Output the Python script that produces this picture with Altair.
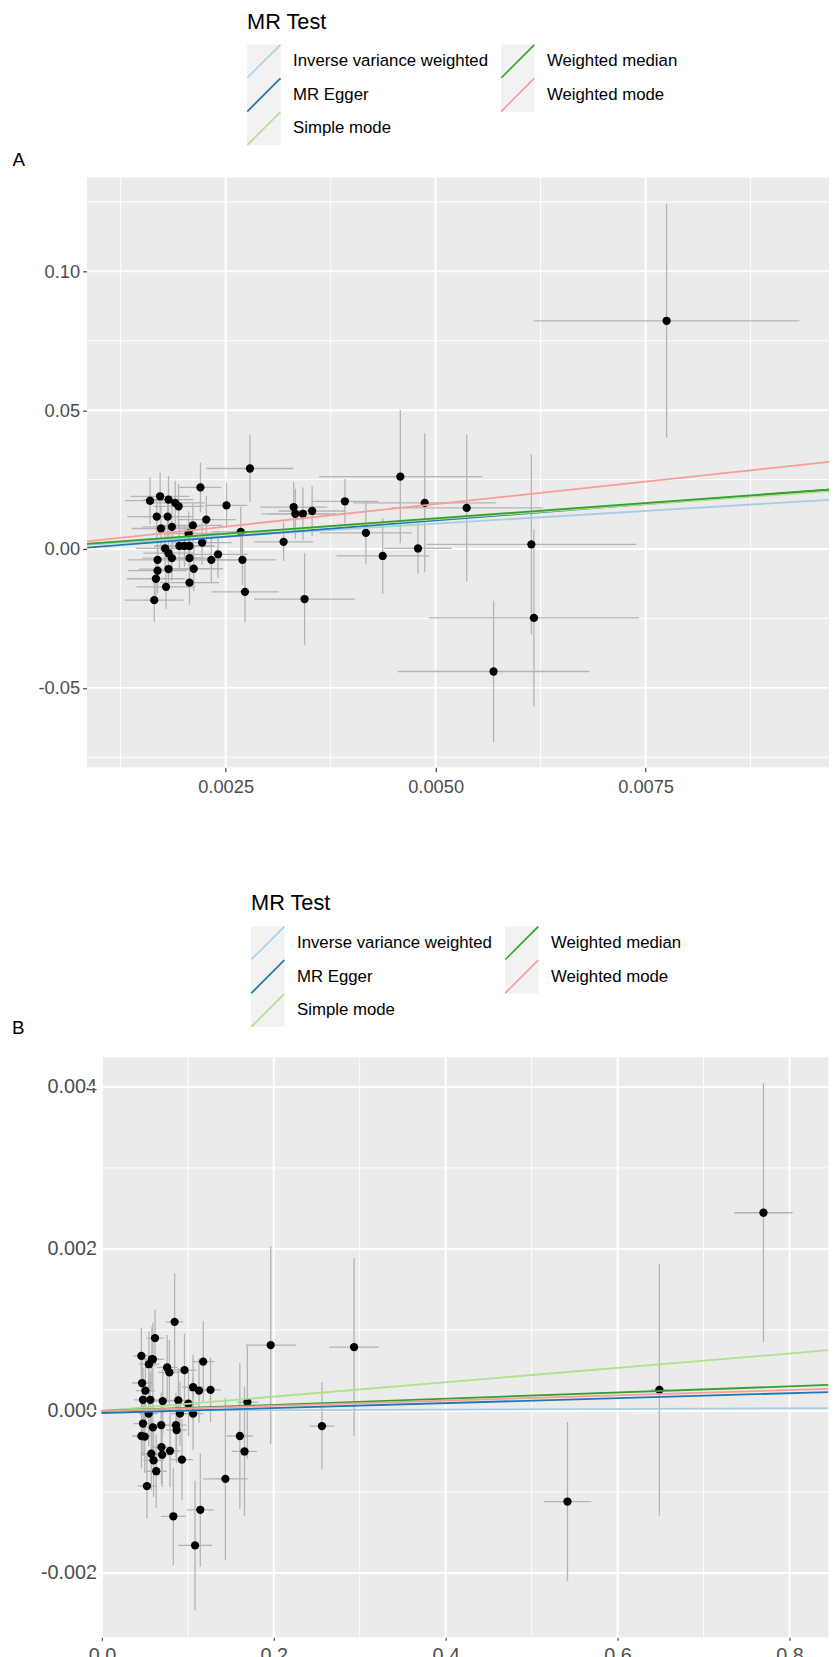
import altair as alt
import pandas as pd

METHODS = ["Inverse variance weighted", "MR Egger", "Simple mode", "Weighted median", "Weighted mode"]
COLORS = {
    "Inverse variance weighted": "#a6cee3",
    "MR Egger": "#1f78b4",
    "Simple mode": "#b2df8a",
    "Weighted median": "#33a02c",
    "Weighted mode": "#fb9a99",
}
KEY_ORDER = ["\u200b" + m for m in METHODS]

# ---------------- Panel A ----------------
a_bx = [0.00160, 0.00172, 0.00182, 0.00190, 0.00194, 0.00168, 0.00181, 0.00173, 0.00186, 0.00211,
        0.00227, 0.00220, 0.00251, 0.00279, 0.00206, 0.00268, 0.00319, 0.00331, 0.00333, 0.00342,
        0.00353, 0.00392, 0.00417, 0.00458, 0.00487, 0.00537, 0.00437, 0.00479, 0.00195, 0.00201,
        0.00207, 0.00222, 0.00178, 0.00182, 0.00186, 0.00169, 0.00207, 0.00241, 0.00233, 0.00270,
        0.00182, 0.00212, 0.00169, 0.00167, 0.00179, 0.00207, 0.00165, 0.00273, 0.00344, 0.00617,
        0.00569, 0.00614, 0.00775]
a_by = [0.0174, 0.0190, 0.0178, 0.0166, 0.0154, 0.0117, 0.0117, 0.0074, 0.0080, 0.0085,
        0.0106, 0.0222, 0.0157, 0.0290, 0.0056, 0.0062, 0.0026, 0.0151, 0.0127, 0.0127,
        0.0137, 0.0172, 0.0058, 0.0261, 0.0166, 0.0148, -0.0025, 0.0002, 0.0011, 0.0011,
        0.0011, 0.0023, 0.0002, -0.0015, -0.0033, -0.0039, -0.0033, -0.0019, -0.0039, -0.0039,
        -0.0072, -0.0071, -0.0078, -0.0107, -0.0136, -0.0121, -0.0184, -0.0154, -0.0180, -0.0248,
        -0.0441, 0.0017, 0.0822]
a_sx = [0.00030, 0.00035, 0.00030, 0.00035, 0.00030, 0.00035, 0.00030, 0.00035, 0.00035, 0.00035,
        0.00035, 0.00025, 0.00025, 0.00052, 0.00035, 0.00035, 0.00035, 0.00040, 0.00040, 0.00040,
        0.00040, 0.00040, 0.00055, 0.00097, 0.00085, 0.00090, 0.00055, 0.00040, 0.00030, 0.00035,
        0.00030, 0.00035, 0.00035, 0.00030, 0.00035, 0.00035, 0.00030, 0.00035, 0.00035, 0.00040,
        0.00035, 0.00035, 0.00035, 0.00035, 0.00035, 0.00035, 0.00035, 0.00040, 0.00060, 0.00125,
        0.00114, 0.00125, 0.00158]
a_sy = [0.0085, 0.0085, 0.0085, 0.0080, 0.0080, 0.0080, 0.0075, 0.0080, 0.0080, 0.0080,
        0.0085, 0.0090, 0.0080, 0.0121, 0.0080, 0.0090, 0.0070, 0.0090, 0.0090, 0.0095,
        0.0090, 0.0080, 0.0113, 0.0240, 0.0250, 0.0264, 0.0136, 0.0092, 0.0080, 0.0075,
        0.0080, 0.0080, 0.0080, 0.0080, 0.0080, 0.0080, 0.0080, 0.0085, 0.0080, 0.0090,
        0.0080, 0.0080, 0.0080, 0.0080, 0.0080, 0.0080, 0.0080, 0.0110, 0.0165, 0.0319,
        0.0255, 0.0324, 0.0421]
a_intercept = [0.0, -0.0015, 0.0, 0.0, 0.0]
a_slope = [1.83, 2.36, 2.15, 2.21, 3.24]

# ---------------- Panel B ----------------
b_bx = [0.0467, 0.0547, 0.0593, 0.0759, 0.0785, 0.0961, 0.1179, 0.1061, 0.1130, 0.1264,
        0.0506, 0.0478, 0.0563, 0.0708, 0.0889, 0.1007, 0.1693, 0.0544, 0.0908, 0.1061,
        0.0478, 0.0593, 0.0690, 0.0862, 0.0869, 0.0460, 0.0498, 0.0693, 0.0793, 0.0701,
        0.0575, 0.0601, 0.0931, 0.0632, 0.0524, 0.1605, 0.1659, 0.1437, 0.1145, 0.0831,
        0.1084, 0.2560, 0.1964, 0.2934, 0.5417, 0.6486, 0.7697, 0.0846, 0.0618, 0.0459,
        0.0582]
b_by = [0.000345, 0.000577, 0.000638, 0.000537, 0.000476, 0.000504, 0.000610, 0.000293, 0.000252, 0.000260,
        0.000252, 0.000138, 0.000138, 0.000122, 0.000130, 0.000089, 0.000110, -0.000033, -0.000033, -0.000033,
        -0.000155, -0.000203, -0.000175, -0.000175, -0.000236, -0.000309, -0.000317, -0.000447, -0.000492, -0.000540,
        -0.000528, -0.000610, -0.000601, -0.000744, -0.000927, -0.000309, -0.000500, -0.000838, -0.001220, -0.001300,
        -0.001660, -0.000187, 0.000813, 0.000789, -0.001118, 0.000260, 0.002447, 0.001100, 0.000900, 0.000680,
        0.000640]
b_sx = [0.012, 0.012, 0.013, 0.012, 0.013, 0.014, 0.013, 0.013, 0.012, 0.012,
        0.011, 0.011, 0.012, 0.012, 0.013, 0.012, 0.012, 0.011, 0.012, 0.012,
        0.011, 0.012, 0.012, 0.012, 0.012, 0.011, 0.011, 0.012, 0.012, 0.012,
        0.012, 0.012, 0.013, 0.012, 0.011, 0.015, 0.015, 0.026, 0.0155, 0.0145,
        0.020, 0.0145, 0.029, 0.0286, 0.0277, 0.010, 0.034, 0.010, 0.010, 0.010,
        0.010]
b_sy = [0.00035, 0.00040, 0.00045, 0.00040, 0.00040, 0.00045, 0.00050, 0.00040, 0.00040, 0.00040,
        0.00040, 0.00040, 0.00035, 0.00040, 0.00040, 0.00040, 0.00070, 0.00040, 0.00040, 0.00045,
        0.00040, 0.00040, 0.00040, 0.00040, 0.00040, 0.00040, 0.00045, 0.00045, 0.00045, 0.00040,
        0.00045, 0.00045, 0.00050, 0.00045, 0.00040, 0.00090, 0.00080, 0.00100, 0.00070, 0.00060,
        0.00080, 0.00054, 0.00122, 0.00110, 0.00098, 0.00155, 0.00160, 0.00060, 0.00035, 0.00035,
        0.00040]
b_intercept = [0.0, -0.000025, 0.0, 0.0, 0.0]
b_slope = [0.00004, 0.000305, 0.000887, 0.00038, 0.000323]

FONT = "Liberation Sans"
# thin filled band along the key diagonal (unit square -1..1)
BAND = "M-1,0.93L0.93,-1L1,-1L1,-0.93L-0.93,1L-1,1Z"
BAR_COLOR = "#B3B3B3"


def fmt_expr(spec):
    return "replace(format(datum.value, '%s'), '\\u2212', '-')" % spec


def panel(bx, by, sx, sy, icpt, slope, xdom, xpanel, ydom, xmaj, xminr, ymaj, yminr,
          xfmt, yfmt, tag, tagx, tagy, width, height, legx, legy, labsize,
          xlabpad, ylabpad, ticksize, yoffset):
    pts = pd.DataFrame({"bx": bx, "by": by, "sx": sx, "sy": sy})
    lines = pd.DataFrame({"method": METHODS, "a": icpt, "b": slope})
    bg = pd.DataFrame({"x0": [xpanel[0]], "x1": [xpanel[1]], "y0": [ydom[0]], "y1": [ydom[1]]})
    xs = alt.Scale(domain=xdom, nice=False, zero=False)
    ys = alt.Scale(domain=ydom, nice=False, zero=False)
    xaxis = alt.Axis(values=xmaj, title=None, grid=False,
                     domain=False, tickColor="#333333", tickSize=ticksize, tickWidth=1.1,
                     labelFontSize=labsize, labelColor="#4D4D4D", labelPadding=xlabpad,
                     labelFont=FONT, labelExpr=fmt_expr(xfmt))
    yaxis = alt.Axis(values=ymaj, title=tag, titleAngle=0, titleX=tagx, titleY=tagy,
                     titleAlign="left", titleBaseline="alphabetic", titleFontSize=19,
                     titleFontWeight="normal", titleColor="black", titleFont=FONT,
                     grid=False, offset=yoffset,
                     domain=False, tickColor="#333333", tickSize=ticksize, tickWidth=1.1,
                     labelFontSize=labsize, labelColor="#4D4D4D", labelPadding=ylabpad,
                     labelFont=FONT, labelExpr=fmt_expr(yfmt))

    back = alt.Chart(bg).mark_rect(color="#EBEBEB").encode(
        x=alt.X("x0:Q", scale=xs, axis=xaxis), x2="x1:Q",
        y=alt.Y("y0:Q", scale=ys, axis=yaxis), y2="y1:Q")
    vminor = alt.Chart(pd.DataFrame({"v": xminr})).mark_rule(color="white", strokeWidth=1).encode(
        x=alt.X("v:Q", scale=xs, axis=xaxis))
    hminor = alt.Chart(pd.DataFrame({"v": yminr})).mark_rule(color="white", strokeWidth=1).encode(
        y=alt.Y("v:Q", scale=ys, axis=yaxis))
    vmajor = alt.Chart(pd.DataFrame({"v": xmaj})).mark_rule(color="white", strokeWidth=2).encode(
        x=alt.X("v:Q", scale=xs, axis=xaxis))
    hmajor = alt.Chart(pd.DataFrame({"v": ymaj})).mark_rule(color="white", strokeWidth=2).encode(
        y=alt.Y("v:Q", scale=ys, axis=yaxis))

    leg_common = dict(orient="none", legendX=legx, legendY=legy, columns=2, symbolSize=1156,
                      labelFontSize=17, labelFont=FONT, labelLimit=400, titleFontSize=22,
                      titleFont=FONT, titleFontWeight="normal", columnPadding=12,
                      rowPadding=0, titlePadding=11, labelOffset=12.5, padding=0,
                      titleAnchor="start", symbolStrokeWidth=0,
                      symbolStrokeColor="transparent", symbolOpacity=1)

    # grey key backgrounds (drawn first)
    keys_bg = alt.Chart(lines).mark_square(opacity=1).transform_calculate(
        m2="'\u200b' + datum.method").transform_filter("false").encode(
        x=alt.X("a:Q", scale=xs, axis=xaxis),
        y=alt.Y("b:Q", scale=ys, axis=yaxis),
        fill=alt.Fill("m2:N", scale=alt.Scale(domain=KEY_ORDER, range=["#F2F2F2"] * 5),
                      legend=alt.Legend(title="MR Test", symbolType="square",
                                        labelColor="rgba(0,0,0,0)",
                                        titleColor="rgba(0,0,0,0)", **leg_common)))
    # coloured diagonals on top of them
    keys_fg = alt.Chart(lines).mark_square(opacity=1).transform_filter("false").encode(
        x=alt.X("a:Q", scale=xs, axis=xaxis),
        y=alt.Y("b:Q", scale=ys, axis=yaxis),
        color=alt.Color("method:N",
                        scale=alt.Scale(domain=METHODS, range=[COLORS[m] for m in METHODS]),
                        legend=alt.Legend(title="MR Test", symbolType=BAND,
                                          labelColor="black", titleColor="black", **leg_common)))

    hbar = alt.Chart(pts).mark_rule(color=BAR_COLOR, strokeWidth=1.3, clip=True).transform_calculate(
        lo="datum.bx - datum.sx", hi="datum.bx + datum.sx").encode(
        x=alt.X("lo:Q", scale=xs, axis=xaxis), x2="hi:Q",
        y=alt.Y("by:Q", scale=ys, axis=yaxis))
    vbar = alt.Chart(pts).mark_rule(color=BAR_COLOR, strokeWidth=1.3, clip=True).transform_calculate(
        lo="datum.by - datum.sy", hi="datum.by + datum.sy").encode(
        x=alt.X("bx:Q", scale=xs, axis=xaxis),
        y=alt.Y("lo:Q", scale=ys, axis=yaxis), y2="hi:Q")
    dots = alt.Chart(pts).mark_circle(color="black", size=70, opacity=1, clip=True).encode(
        x=alt.X("bx:Q", scale=xs, axis=xaxis),
        y=alt.Y("by:Q", scale=ys, axis=yaxis))
    lns = alt.Chart(lines).mark_rule(strokeWidth=1.8, clip=True).transform_calculate(
        x0=str(xpanel[0]), x1=str(xpanel[1]),
        y0="datum.a + datum.b * (%s)" % xpanel[0],
        y1="datum.a + datum.b * (%s)" % xpanel[1]).encode(
        x=alt.X("x0:Q", scale=xs, axis=xaxis), x2="x1:Q",
        y=alt.Y("y0:Q", scale=ys, axis=yaxis), y2="y1:Q",
        stroke=alt.Stroke("method:N",
                          scale=alt.Scale(domain=METHODS, range=[COLORS[m] for m in METHODS]),
                          legend=None))
    return alt.layer(back, vminor, hminor, vmajor, hmajor, keys_bg, keys_fg,
                     hbar, vbar, dots, lns).properties(width=width, height=height)


pA = panel(a_bx, a_by, a_sx, a_sy, a_intercept, a_slope,
           [0.00085, 0.0096835], [0.00085, 0.0096835], [-0.0786, 0.1338],
           [0.0025, 0.005, 0.0075], [0.00125, 0.00375, 0.00625, 0.00875],
           [-0.05, 0.0, 0.05, 0.10], [-0.075, -0.025, 0.025, 0.075, 0.125],
           ".4f", ".2f", "A", -76, -12, 751, 597, 162, -167.6, 18.5, 6, 3, 4.5, 0)

pB = panel(b_bx, b_by, b_sx, b_sy, b_intercept, b_slope,
           [-0.0173, 0.8453], [-0.0005, 0.8453], [-0.002793, 0.004366],
           [0.0, 0.2, 0.4, 0.6, 0.8], [0.1, 0.3, 0.5, 0.7],
           [-0.002, 0.0, 0.002, 0.004], [-0.001, 0.001, 0.003],
           ".1f", ".3f", "B", -91, -23.7, 750.4, 587, 166, -165.6, 20, 6, 2, 3, -14.6)

chart = alt.vconcat(pA, pB, spacing=98.5).resolve_scale(
    x="independent", y="independent", stroke="independent", fill="independent",
    color="independent"
).resolve_legend(color="independent", fill="independent").properties(
    padding={"left": 3, "top": -6.6, "right": 0, "bottom": 0},
    background="white",
).configure(font=FONT).configure_view(fill=None, stroke=None)

chart.save("out.html", embed_options={"renderer": "svg", "actions": False})
